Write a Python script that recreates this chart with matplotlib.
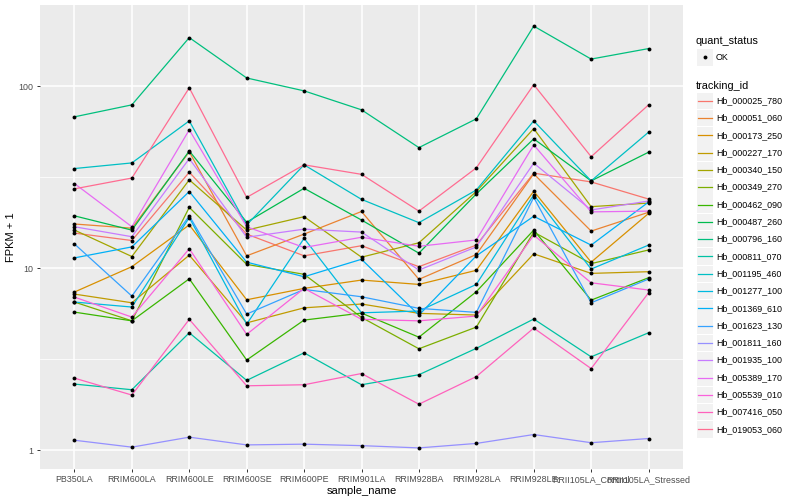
import numpy as np
import matplotlib
matplotlib.use("Agg")
import matplotlib.pyplot as plt
from matplotlib.patches import Rectangle

plt.rcParams['font.family'] = ['Liberation Sans', 'DejaVu Sans']

# samples on the x axis
samples = ["PB350LA", "RRIM600LA", "RRIM600LE", "RRIM600SE", "RRIM600PE",
           "RRIM901LA", "RRIM928BA", "RRIM928LA", "RRIM928LE",
           "RRII105LA_Control", "RRII105LA_Stressed"]

tracking_ids = ["Hb_000025_780", "Hb_000051_060", "Hb_000173_250", "Hb_000227_170",
                "Hb_000340_150", "Hb_000349_270", "Hb_000462_090", "Hb_000487_260",
                "Hb_000796_160", "Hb_000811_070", "Hb_001195_460", "Hb_001277_100",
                "Hb_001369_610", "Hb_001623_130", "Hb_001811_160", "Hb_001935_100",
                "Hb_005389_170", "Hb_005539_010", "Hb_007416_050", "Hb_019053_060"]

# FPKM + 1 per sample
hb_000025_780 = [15.6, 14.2, 33.7, 15.4, 11.7, 13.3, 10.2, 13.4, 33.3, 29.8, 24.0]
hb_000051_060 = [17.5, 16.6, 43.6, 11.7, 15.4, 20.5, 8.69, 11.9, 33.0, 16.0, 20.3]
hb_000173_250 = [7.40, 10.2, 17.3, 6.71, 7.75, 8.61, 8.15, 9.74, 26.5, 10.8, 20.0]
hb_000227_170 = [7.21, 6.46, 11.8, 5.01, 6.06, 6.36, 5.65, 5.53, 12.0, 9.37, 9.57]
hb_000340_150 = [16.2, 11.6, 30.6, 16.2, 19.2, 11.5, 13.8, 26.4, 58.5, 21.8, 22.8]
hb_000349_270 = [6.52, 5.14, 21.6, 10.5, 9.26, 5.37, 3.61, 4.75, 15.8, 10.6, 12.6]
hb_000462_090 = [5.74, 5.14, 8.75, 3.13, 5.19, 5.67, 4.18, 7.43, 16.2, 6.68, 8.87]
hb_000487_260 = [19.4, 16.2, 44.1, 17.9, 27.5, 18.4, 12.1, 25.6, 51.4, 30.2, 43.4]
hb_000796_160 = [67.9, 79.0, 185.0, 111.0, 94.3, 74.2, 46.0, 66.2, 214.0, 141.0, 161.0]
hb_000811_070 = [2.31, 2.15, 4.42, 2.42, 3.43, 2.29, 2.60, 3.63, 5.26, 3.26, 4.42]
hb_001195_460 = [35.3, 37.9, 64.5, 17.3, 37.0, 23.9, 17.8, 26.9, 64.5, 30.2, 55.9]
hb_001277_100 = [6.52, 6.12, 19.0, 4.93, 14.6, 5.69, 5.82, 8.15, 25.3, 9.90, 13.4]
hb_001369_610 = [11.4, 13.1, 26.4, 10.8, 8.98, 11.2, 5.53, 11.7, 19.3, 13.4, 23.1]
hb_001623_130 = [13.6, 7.03, 19.4, 5.60, 7.65, 6.97, 6.02, 5.72, 24.5, 6.46, 8.72]
hb_001811_160 = [1.135, 1.04, 1.18, 1.07, 1.08, 1.06, 1.03, 1.09, 1.22, 1.10, 1.16]
hb_001935_100 = [16.9, 14.9, 40.0, 14.8, 16.4, 15.8, 9.77, 13.1, 37.8, 20.9, 23.4]
hb_005389_170 = [29.2, 16.9, 57.6, 16.9, 13.0, 14.8, 13.2, 14.3, 47.6, 20.4, 20.6]
hb_005539_010 = [6.94, 5.39, 12.8, 4.33, 7.75, 5.24, 5.14, 5.46, 15.2, 8.32, 7.59]
hb_007416_050 = [2.49, 2.01, 5.24, 2.26, 2.29, 2.64, 1.79, 2.54, 4.69, 2.81, 7.33]
hb_019053_060 = [27.3, 31.3, 98.0, 24.5, 37.0, 32.8, 20.6, 35.6, 102.0, 41.0, 79.0]

series = [hb_000025_780, hb_000051_060, hb_000173_250, hb_000227_170, hb_000340_150,
          hb_000349_270, hb_000462_090, hb_000487_260, hb_000796_160, hb_000811_070,
          hb_001195_460, hb_001277_100, hb_001369_610, hb_001623_130, hb_001811_160,
          hb_001935_100, hb_005389_170, hb_005539_010, hb_007416_050, hb_019053_060]

# ggplot default hue palette for 20 levels
colors = ["#F8766D", "#EA8331", "#D89000", "#C09B00", "#A3A500", "#7CAE00", "#39B600",
          "#00BB4E", "#00BF7D", "#00C1A3", "#00BFC4", "#00BAE0", "#00B0F6", "#35A2FF",
          "#9590FF", "#C77CFF", "#E76BF3", "#FA62DB", "#FF62BC", "#FF6C91"]

fig = plt.figure(figsize=(8, 5), dpi=100)
ax = fig.add_axes([40 / 800, 31 / 500, 643 / 800, 464 / 500])
ax.set_facecolor("#EBEBEB")

x = np.arange(len(samples))
for vals, col in zip(series, colors):
    ax.plot(x, vals, color=col, lw=0.9, zorder=3)
for vals in series:
    ax.plot(x, vals, 'o', color='black', ms=2.8, mew=0, zorder=4)

ax.set_yscale('log')
allv = np.log10(np.concatenate([np.array(s) for s in series]))
lo, hi = allv.min(), allv.max()
pad = (hi - lo) * 0.05
ax.set_ylim(10 ** (lo - pad), 10 ** (hi + pad))
ax.set_xlim(-0.6, len(samples) - 0.4)

ax.set_yticks([1, 10, 100])
ax.set_yticklabels(["1", "10", "100"])
ax.yaxis.set_minor_locator(matplotlib.ticker.NullLocator())
ax.set_xticks(x)
ax.set_xticklabels(samples)

# grid
for v in [1, 10, 100]:
    ax.axhline(v, color="white", lw=1.1, zorder=1)
for v in [10 ** 0.5, 10 ** 1.5]:
    ax.axhline(v, color="white", lw=0.55, zorder=1)
for xi in x:
    ax.axvline(xi, color="white", lw=1.1, zorder=1)

for s in ax.spines.values():
    s.set_visible(False)
ax.tick_params(axis='both', length=2.5, width=0.7, color="#333333",
               labelcolor="#4D4D4D", labelsize=6.4, pad=2)
ax.set_xlabel("sample_name", fontsize=8, labelpad=1)
ax.set_ylabel("FPKM + 1", fontsize=8, labelpad=2)

# legend drawn in pixel coordinates
lg = fig.add_axes([0, 0, 1, 1], facecolor="none")
lg.set_xlim(0, 800)
lg.set_ylim(500, 0)
lg.axis("off")

lg.text(696, 41, "quant_status", fontsize=7.8, va="center", ha="left")
lg.add_patch(Rectangle((696.5, 49), 16.5, 16.5, facecolor="#F2F2F2", edgecolor="none"))
lg.plot([704.7], [57.2], 'o', color="black", ms=2.8, mew=0)
lg.text(716, 57.2, "OK", fontsize=6.4, va="center", ha="left")

lg.text(696, 86, "tracking_id", fontsize=7.8, va="center", ha="left")
for i, (tid, col) in enumerate(zip(tracking_ids, colors)):
    yc = 100.7 + 17.3 * i
    lg.add_patch(Rectangle((696.5, yc - 8.2), 16.5, 16.5, facecolor="#F2F2F2",
                           edgecolor="none"))
    lg.plot([698, 711.5], [yc, yc], color=col, lw=0.9)
    lg.text(716, yc, tid, fontsize=6.4, va="center", ha="left")

fig.savefig("out.png", dpi=100)
